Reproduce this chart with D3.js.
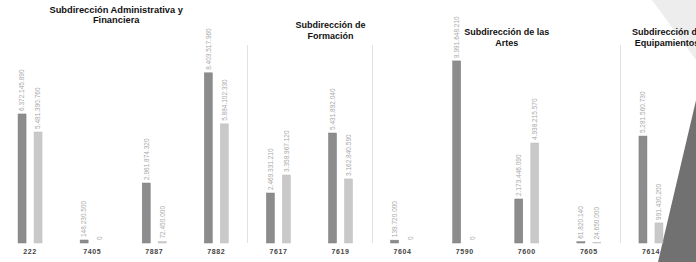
<!DOCTYPE html>
<html>
<head>
<meta charset="utf-8">
<script src="https://cdn.jsdelivr.net/npm/d3@7"></script>
<style>
  body { margin: 0; background: #fff; }
  svg { display: block; font-family: "Liberation Sans", Arial, sans-serif; }
</style>
</head>
<body>
<div id="chart"></div>
<script>
// project codes, in the order they appear
var categories = ["222", "7405", "7887", "7882", "7617", "7619", "7604", "7590", "7600", "7605", "7614"];
// darker bar (left) and lighter bar (right) of each project
var seriesDark  = [6372145890, 148230500, 2961874320, 8403517960, 2469331210, 5431892040, 139720000, 8991648210, 2173446090, 61820140, 5281560730];
var seriesLight = [5481390760, 0, 72450000, 5884102330, 3358967120, 3162840590, 0, 0, 4938215570, 24650000, 991430200];
// panels: title lines and the first category of each one
var panelTitles = [
  ["Subdirección Administrativa y", "Financiera"],
  ["Subdirección de", "Formación"],
  ["Subdirección de las", "Artes"],
  ["Subdirección de", "Equipamientos"]
];
var panelFirst = ["222", "7617", "7604", "7614"];

var width = 696, height = 262;
var baseY = 243;

var svg = d3.select("#chart").append("svg")
    .attr("width", width)
    .attr("height", height);

// page corner visible in the photo (behind everything)
svg.append("polygon")
    .attr("points", "652,0 696,0 696,60")
    .attr("fill", "#ededed");
svg.append("polygon")
    .attr("points", "697,96 658,262 696,262")
    .attr("fill", "#717171");

var x = d3.scaleBand().domain(categories).range([-1, 682]);
var xSub = d3.scaleBand().domain(["dark", "light"]).range([-16, 16])
    .paddingInner(0.5).paddingOuter(0.25);
var y = d3.scaleLinear().domain([0, 12e9]).range([baseY, 0]);

var fmt = function(v) { return d3.format(",")(v).replace(/,/g, "."); };

// panel separators
panelFirst.slice(1).forEach(function(c) {
  var sx = Math.round(x(c)) + 0.5;
  svg.append("line")
      .attr("x1", sx).attr("x2", sx)
      .attr("y1", 45).attr("y2", baseY)
      .attr("stroke", "#e2e2e2")
      .attr("stroke-width", 1);
});

// panel titles (the photo is a bit skewed, so each sits a little differently)
var titleShift = [
  {dx: -7, y: 13, size: 9.3, gap: 10},
  {dx: 21, y: 28, size: 9, gap: 11},
  {dx: 11, y: 35, size: 9, gap: 11},
  {dx: 16, y: 35, size: 9, gap: 11}
];
panelTitles.forEach(function(lines, i) {
  var start = x(panelFirst[i]);
  var end = i < panelFirst.length - 1 ? x(panelFirst[i + 1]) : x.range()[1];
  var cx = (start + end) / 2 + titleShift[i].dx;
  var t = svg.append("text")
      .attr("x", cx)
      .attr("y", titleShift[i].y)
      .attr("text-anchor", "middle")
      .style("font-size", titleShift[i].size + "px")
      .style("font-weight", "bold")
      .style("fill", "#111");
  lines.forEach(function(l, j) {
    t.append("tspan")
        .attr("x", cx)
        .attr("dy", j === 0 ? 0 : titleShift[i].gap)
        .text(l);
  });
});

var rows = categories.map(function(c, i) {
  return {cat: c, values: [{key: "dark", v: seriesDark[i]}, {key: "light", v: seriesLight[i]}]};
});

var groups = svg.selectAll(".group")
    .data(rows)
  .enter().append("g")
    .attr("class", "group")
    .attr("transform", function(d) { return "translate(" + (x(d.cat) + x.bandwidth() / 2) + ",0)"; });

groups.selectAll("rect")
    .data(function(d) { return d.values; })
  .enter().append("rect")
    .attr("x", function(d) { return xSub(d.key); })
    .attr("width", xSub.bandwidth())
    .attr("y", function(d) { return y(d.v); })
    .attr("height", function(d) { return baseY - y(d.v); })
    .attr("fill", function(d) { return d.key === "dark" ? "#8c8c8c" : "#c9c9c9"; })
    .attr("stroke", function(d) { return d.key === "dark" ? "#7e7e7e" : "#c0c0c0"; })
    .attr("stroke-width", 0.5);

// value labels, rotated above each bar
groups.selectAll(".val")
    .data(function(d) { return d.values; })
  .enter().append("text")
    .attr("class", "val")
    .attr("transform", function(d) {
      return "translate(" + (xSub(d.key) + xSub.bandwidth() / 2 + 2.3) + "," + (y(d.v) - 3) + ") rotate(-90)";
    })
    .style("font-size", "6.5px")
    .style("fill", "#a8a8a8")
    .text(function(d) { return fmt(d.v); });

// category labels
groups.append("text")
    .attr("y", 254)
    .attr("text-anchor", "middle")
    .style("font-size", "7px")
    .style("font-weight", "bold")
    .style("letter-spacing", "0.6px")
    .style("fill", "#444")
    .text(function(d) { return d.cat; });
</script>
</body>
</html>
